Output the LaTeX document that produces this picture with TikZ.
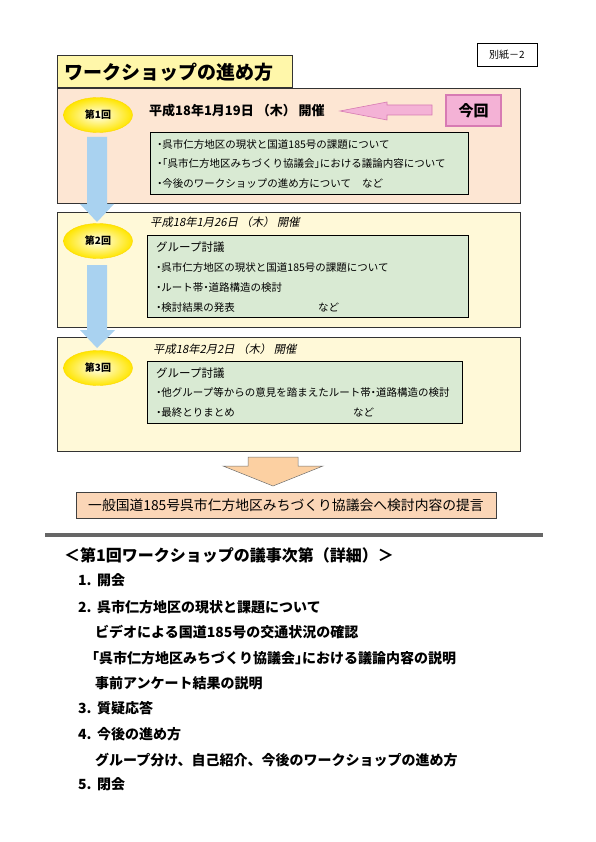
\documentclass[tikz,border=0pt]{standalone}
\usepackage{fontspec}
\setmainfont{Noto Sans CJK JP}
\newfontfamily\jpslant[FakeSlant=0.2]{Noto Sans CJK JP}
\newfontfamily\jphalt[RawFeature=+halt]{Noto Sans CJK JP}
\usepackage{tikz}
\usetikzlibrary{shapes.geometric,positioning}
\newcommand{\jpsize}[1]{\fontsize{#1}{#1}\selectfont}
\definecolor{peach}{HTML}{FDE6D3}
\definecolor{cream}{HTML}{FFF9D8}
\definecolor{titley}{HTML}{FFF7AA}
\definecolor{leaf}{HTML}{D9EAD3}
\definecolor{skyarr}{HTML}{A9D2F0}
\definecolor{pinkf}{HTML}{F4B2D6}
\definecolor{pinkd}{HTML}{D77BB3}
\definecolor{tanarr}{HTML}{FCD0A2}
\definecolor{tanbox}{HTML}{FBD6B7}

\begin{document}
\begin{tikzpicture}[x=1pt, y=-1pt, every node/.style={inner sep=0pt},
  panel/.style={draw=black!80, line width=0.9pt, anchor=north west},
  gbox/.style={draw=black, line width=1pt, fill=leaf, anchor=north west},
  kai/.style={ellipse, minimum width=69pt, minimum height=35pt, inner color=yellow!6, outer color=yellow!80!orange, draw=yellow!75!orange, font=\jpsize{10}\bfseries},
  txt/.style={anchor=west, font=\jphalt\jpsize{10.5}},
  head/.style={anchor=west, font=\jpsize{11.5}},
  dat/.style={anchor=west, font=\jpslant\jpsize{11.3}},
  agenda/.style={anchor=west, font=\jpsize{14}\bfseries}]
\useasboundingbox (0,0) rectangle (595,842);

% sessions
\node[panel, fill=peach, minimum width=463pt, minimum height=115pt] (ses1) at (57,88) {};
\node[panel, fill=cream, minimum width=463pt, minimum height=115pt] (ses2) at (57,212) {};
\node[panel, fill=cream, minimum width=463pt, minimum height=114pt] (ses3) at (57,337) {};
\node[panel, fill=titley, minimum width=235pt, minimum height=32pt] (title) at (57,55) {};
\node[anchor=west, font=\jpsize{19}\bfseries] (titletxt) at (64,72) {ワークショップの進め方};
\node[draw=black, line width=0.9pt, fill=white, minimum width=60pt, minimum height=23pt, font=\jpsize{10}] (bessi) at (507,54.5) {別紙－2};

% round 1
\node[kai] (k1) at (98,115) {第1回};
\node[anchor=west, font=\jpsize{13}\bfseries] (d1) at (149,111) {平成18年1月19日 （木） 開催};
\node[draw=pinkd, line width=1.3pt, fill=pinkf, minimum width=55pt, minimum height=31pt, font=\jpsize{15}\bfseries] (konkai) at (473.5,110.5) {今回};
\filldraw[draw=pinkd, fill=pinkf, line width=0.6pt] (432,105) -- (387,105) -- (387,102) -- (340,111) -- (387,120) -- (387,115) -- (432,115) -- cycle;
\node[gbox, minimum width=318pt, minimum height=62pt] (g1) at (150,132) {};
\node[txt] (g1a) at (157,145) {・呉市仁方地区の現状と国道185号の課題について};
\node[txt] (g1b) at (157,164) {・「呉市仁方地区みちづくり協議会」における議論内容について};
\node[txt] (g1c) at (157,184) {\makebox[205pt][l]{・今後のワークショップの進め方について}など};

% round 2
\node[kai] (k2) at (98,241) {第2回};
\node[dat] (d2) at (150,222) {平成18年1月26日 （木） 開催};
\node[gbox, minimum width=321pt, minimum height=82pt] (g2) at (147,235) {};
\node[head] (g2h) at (156,247) {グループ討議};
\node[txt] (g2a) at (156,268) {・呉市仁方地区の現状と国道185号の課題について};
\node[txt] (g2b) at (156,288) {・ルート帯・道路構造の検討};
\node[txt] (g2c) at (156,308) {\makebox[162pt][l]{・検討結果の発表}など};

% round 3
\node[kai] (k3) at (98,368) {第3回};
\node[dat] (d3) at (153,349) {平成18年2月2日 （木） 開催};
\node[gbox, minimum width=315pt, minimum height=62pt] (g3) at (147,361) {};
\node[head] (g3h) at (156,373) {グループ討議};
\node[txt] (g3a) at (156,393) {・他グループ等からの意見を踏まえたルート帯・道路構造の検討};
\node[txt] (g3b) at (156,413) {\makebox[197pt][l]{・最終とりまとめ}など};

% flow arrows
\fill[skyarr] (87,137) -- (107,137) -- (107,204) -- (114,204) -- (97,222) -- (80,204) -- (87,204) -- cycle;
\fill[skyarr] (87,265) -- (107,265) -- (107,330) -- (115,330) -- (97,348) -- (80,330) -- (87,330) -- cycle;
\filldraw[fill=tanarr, draw=black!55, line width=0.5pt] (248,457) -- (298,457) -- (298,466) -- (323,466) -- (273,486) -- (223,466) -- (248,466) -- cycle;
\node[draw=black!75, line width=1pt, fill=tanbox, minimum width=420pt, minimum height=26pt, font=\jpsize{13.8}] (teigen) at (286,505) {一般国道185号呉市仁方地区みちづくり協議会へ検討内容の提言};

% agenda
\draw[line width=4pt, black!60] (45,535) -- (543,535);
\node[anchor=west, font=\jpsize{16}\bfseries] (agt) at (64,555) {＜第1回ワークショップの議事次第（詳細）＞};
\node[agenda] (a1) at (78,580) {\makebox[19pt][l]{1.}開会};
\node[agenda] (a2) at (78,607) {\makebox[19pt][l]{2.}呉市仁方地区の現状と課題について};
\node[agenda] (a2a) at (95,632) {ビデオによる国道185号の交通状況の確認};
\node[agenda, font=\jphalt\jpsize{14}\bfseries] (a2b) at (92,658) {「呉市仁方地区みちづくり協議会」における議論内容の説明};
\node[agenda] (a2c) at (95,683) {事前アンケート結果の説明};
\node[agenda] (a3) at (78,708) {\makebox[19pt][l]{3.}質疑応答};
\node[agenda] (a4) at (78,734) {\makebox[19pt][l]{4.}今後の進め方};
\node[agenda] (a4a) at (95,760) {グループ分け、自己紹介、今後のワークショップの進め方};
\node[agenda] (a5) at (78,784) {\makebox[19pt][l]{5.}閉会};
\end{tikzpicture}
\end{document}
